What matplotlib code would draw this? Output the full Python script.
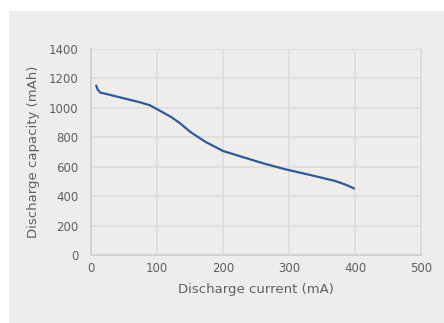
import matplotlib.pyplot as plt
from matplotlib.patches import Rectangle

# values
current = [8, 10, 14, 29, 54, 74, 89, 107, 122, 135, 150, 173, 200, 231, 261, 294, 332, 370, 387, 398]
capacity = [1150, 1125, 1104, 1088, 1060, 1038, 1018, 974, 936, 895, 838, 770, 707, 664, 623, 583, 544, 503, 476, 453]

x_ticks = [0, 100, 200, 300, 400, 500]
y_ticks = [0, 200, 400, 600, 800, 1000, 1200, 1400]

bg = '#eeedeb'
grid_col = '#dedddb'
text_col = '#606060'

fig = plt.figure(figsize=(4.44, 3.23), dpi=100)
fig.patch.set_facecolor('white')
fig.patches.append(Rectangle((9 / 444, 0), 1, (323 - 11) / 323,
                             transform=fig.transFigure, facecolor=bg,
                             edgecolor='none', zorder=-1))

ax = fig.add_axes([91 / 444, 68 / 323, 330 / 444, 206 / 323])
ax.set_facecolor(bg)
ax.plot(current, capacity, color='#2e5a9a', linewidth=1.6)

ax.set_xlim(0, 500)
ax.set_ylim(0, 1400)
ax.set_xticks(x_ticks)
ax.set_yticks(y_ticks)
ax.grid(True, color=grid_col, linewidth=1.2)
ax.set_axisbelow(True)
ax.tick_params(length=0, labelsize=8.5, colors=text_col)
ax.tick_params(axis='x', pad=5)
ax.tick_params(axis='y', pad=9)
for s in ['top', 'right']:
    ax.spines[s].set_color(grid_col)
for s in ['left', 'bottom']:
    ax.spines[s].set_color('#d2d1cf')
    ax.spines[s].set_linewidth(1.4)

ax.set_xlabel('Discharge current (mA)', fontsize=9.5, color=text_col, labelpad=6)
ax.set_ylabel('Discharge capacity (mAh)', fontsize=9.5, color=text_col, labelpad=6)

fig.savefig('out.png', dpi=100, facecolor=fig.get_facecolor())
